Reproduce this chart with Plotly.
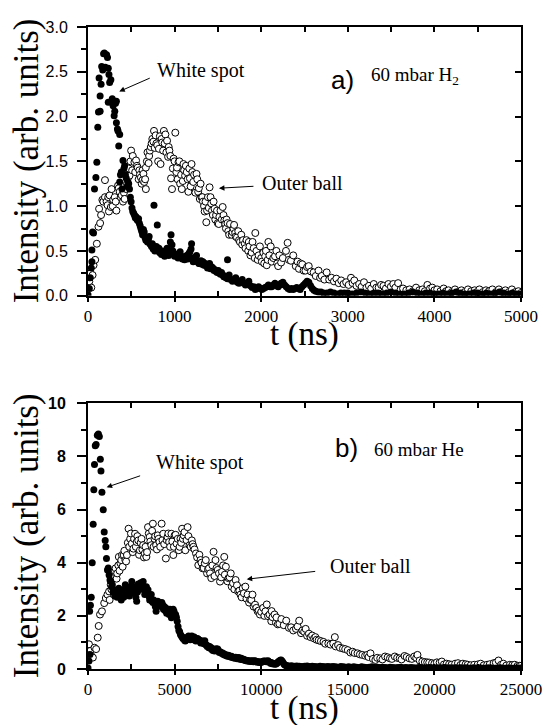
import plotly.graph_objects as go

# ---- panel a) 60 mbar H2 ----
t_ws_a = [0, 15, 26, 38, 45, 45, 53, 64, 75, 91, 102, 113, 121, 128, 140, 140, 151, 158, 170, 180,
          189, 200, 215, 225, 234, 234, 242, 250, 264, 272, 280, 290, 302, 309, 318, 328, 328, 340, 347, 355,
          366, 366, 375, 385, 392, 404, 415, 423, 432, 442, 451, 460, 470, 479, 489, 498, 508, 517, 527, 536,
          546, 555, 565, 574, 584, 593, 602, 611, 620, 630, 640, 649, 658, 668, 678, 687, 697, 706, 715, 725,
          734, 743, 753, 762, 762, 772, 781, 790, 800, 810, 819, 828, 838, 848, 857, 866, 876, 885, 894, 904,
          913, 923, 932, 942, 951, 959, 970, 980, 989, 1000, 1010, 1027, 1040, 1050, 1064, 1075, 1090, 1102, 1115, 1127,
          1140, 1150, 1165, 1177, 1190, 1196, 1205, 1215, 1230, 1240, 1253, 1265, 1280, 1291, 1305, 1315, 1328, 1340, 1353, 1366,
          1380, 1392, 1404, 1415, 1430, 1442, 1455, 1467, 1479, 1492, 1505, 1517, 1530, 1542, 1555, 1568, 1580, 1593, 1611, 1611,
          1630, 1648, 1668, 1687, 1706, 1725, 1744, 1763, 1781, 1800, 1819, 1838, 1857, 1876, 1895, 1913, 1932, 1951, 1970, 1990,
          2008, 2027, 2046, 2064, 2083, 2102, 2121, 2140, 2159, 2178, 2196, 2215, 2230, 2250, 2270, 2290, 2310, 2330, 2350, 2370,
          2390, 2410, 2430, 2450, 2470, 2490, 2510, 2530, 2550, 2570, 2590, 2610, 2630, 2660, 2690, 2720, 2760, 2800, 2840, 2880,
          2920, 2960, 3000, 3050, 3100, 3150, 3200, 3250, 3300, 3350, 3400, 3450, 3500, 3550, 3600, 3650, 3700, 3750, 3800, 3850,
          3900, 3950, 4000, 4050, 4100, 4150, 4200, 4250, 4300, 4350, 4400, 4450, 4500, 4550, 4600, 4650, 4700, 4750, 4800, 4850,
          4900, 4950, 5000]
i_ws_a = [0.01, 0.08, 0.2, 0.31, 0.38, 0.51, 0.71, 0.7, 1.19, 1.32, 1.49, 1.88, 2.05, 2.43, 2.06, 2.23, 2.36, 2.56, 2.52, 2.7,
          2.71, 2.55, 2.69, 2.66, 2.54, 2.16, 2.47, 2.38, 2.41, 2.16, 2.2, 2.12, 2.01, 2.06, 2.15, 2.17, 1.93, 1.86, 1.84, 1.67,
          1.8, 1.27, 1.35, 1.38, 1.19, 1.51, 1.42, 1.45, 1.35, 1.31, 1.22, 1.27, 1.25, 1.19, 1.1, 1.05, 0.98, 0.94, 0.92, 0.9,
          0.87, 0.88, 0.85, 0.84, 0.86, 0.81, 0.78, 0.75, 0.72, 0.68, 0.74, 0.71, 0.65, 0.62, 0.64, 0.6, 0.63, 0.66, 0.58, 0.57,
          0.55, 0.58, 0.52, 1.01, 0.53, 0.5, 0.51, 0.55, 0.79, 0.5, 0.53, 0.48, 0.49, 0.46, 0.5, 0.47, 0.47, 0.44, 0.5, 0.48,
          0.53, 0.46, 0.45, 0.5, 0.6, 0.68, 0.57, 0.5, 0.47, 0.44, 0.46, 0.45, 0.42, 0.47, 0.49, 0.44, 0.41, 0.42, 0.4, 0.44,
          0.45, 0.41, 0.47, 0.49, 0.52, 0.58, 0.42, 0.38, 0.4, 0.43, 0.45, 0.38, 0.36, 0.36, 0.39, 0.35, 0.38, 0.34, 0.36, 0.33,
          0.31, 0.35, 0.36, 0.3, 0.32, 0.31, 0.28, 0.29, 0.27, 0.26, 0.28, 0.25, 0.24, 0.26, 0.23, 0.21, 0.22, 0.2, 0.4, 0.19,
          0.23, 0.18, 0.16, 0.18, 0.2, 0.15, 0.14, 0.16, 0.18, 0.14, 0.12, 0.14, 0.16, 0.11, 0.09, 0.1, 0.07, 0.08, 0.1, 0.08,
          0.07, 0.08, 0.09, 0.1, 0.12, 0.1, 0.1, 0.12, 0.14, 0.11, 0.1, 0.12, 0.14, 0.15, 0.12, 0.1, 0.08, 0.07, 0.08, 0.07,
          0.08, 0.09, 0.08, 0.07, 0.1, 0.12, 0.14, 0.16, 0.15, 0.11, 0.08, 0.06, 0.05, 0.04, 0.04, 0.03, 0.03, 0.04, 0.03, 0.02,
          0.03, 0.03, 0.03, 0.02, 0.03, 0.04, 0.03, 0.02, 0.03, 0.03, 0.02, 0.03, 0.04, 0.03, 0.02, 0.02, 0.03, 0.04, 0.03, 0.02,
          0.03, 0.03, 0.02, 0.02, 0.03, 0.02, 0.03, 0.04, 0.03, 0.02, 0.02, 0.03, 0.03, 0.02, 0.03, 0.02, 0.03, 0.04, 0.03, 0.02,
          0.03, 0.02, 0.02]

t_ob_a = [0, 15, 30, 38, 53, 64, 83, 102, 121, 128, 140, 151, 166, 177, 196, 196, 215, 226, 234, 242,
          250, 264, 272, 285, 291, 309, 320, 328, 347, 355, 366, 377, 390, 404, 415, 423, 442, 450, 460, 470,
          479, 490, 498, 510, 517, 536, 545, 555, 565, 574, 585, 593, 600, 611, 620, 630, 630, 640, 649, 660,
          668, 668, 680, 687, 700, 706, 715, 725, 735, 743, 755, 762, 770, 781, 790, 800, 810, 819, 830, 838,
          850, 857, 868, 876, 885, 894, 905, 913, 925, 932, 940, 951, 959, 970, 980, 989, 1000, 1008, 1020, 1027,
          1035, 1045, 1055, 1064, 1075, 1083, 1095, 1102, 1110, 1121, 1130, 1140, 1150, 1159, 1170, 1177, 1185, 1196, 1205, 1215,
          1225, 1240, 1253, 1262, 1272, 1280, 1291, 1300, 1310, 1320, 1328, 1340, 1347, 1357, 1366, 1375, 1385, 1395, 1404, 1415,
          1423, 1432, 1442, 1450, 1461, 1470, 1479, 1490, 1498, 1510, 1517, 1530, 1545, 1555, 1565, 1574, 1585, 1593, 1600, 1611,
          1620, 1630, 1640, 1660, 1668, 1680, 1687, 1700, 1706, 1720, 1735, 1744, 1755, 1770, 1781, 1790, 1810, 1819, 1830, 1850,
          1857, 1865, 1876, 1890, 1900, 1913, 1925, 1932, 1945, 1960, 1970, 1985, 2000, 2008, 2025, 2035, 2046, 2055, 2064, 2075,
          2083, 2095, 2110, 2121, 2140, 2159, 2175, 2185, 2196, 2210, 2230, 2250, 2286, 2305, 2320, 2343, 2370, 2399, 2420, 2436,
          2455, 2474, 2490, 2511, 2530, 2549, 2575, 2605, 2630, 2662, 2680, 2699, 2730, 2756, 2785, 2812, 2840, 2868, 2895, 2924,
          2950, 2981, 3010, 3037, 3055, 3075, 3100, 3131, 3160, 3187, 3215, 3244, 3270, 3300, 3330, 3356, 3385, 3412, 3440, 3469,
          3497, 3525, 3550, 3581, 3610, 3638, 3675, 3713, 3750, 3788, 3825, 3863, 3890, 3919, 3950, 3976, 4000, 4032, 4070, 4107,
          4135, 4163, 4200, 4238, 4275, 4313, 4350, 4388, 4425, 4464, 4490, 4520, 4560, 4595, 4630, 4670, 4710, 4745, 4780, 4820,
          4860, 4895, 4935, 4970, 5000]
i_ob_a = [0.2, 0.16, 0.25, 0.09, 0.23, 0.34, 0.4, 0.58, 0.77, 0.97, 0.81, 0.9, 1.07, 1.05, 1.1, 1.29, 1.05, 1.01, 1.1, 0.94,
          1.12, 0.99, 1.19, 1.0, 1.07, 1.1, 1.05, 0.95, 1.23, 1.2, 1.16, 1.1, 1.12, 1.05, 1.15, 1.08, 1.19, 1.25, 1.31, 1.42,
          1.34, 1.5, 1.62, 1.4, 1.56, 1.49, 1.38, 1.51, 1.45, 1.43, 1.3, 1.4, 1.35, 1.32, 1.25, 1.29, 1.4, 1.36, 1.27, 1.3,
          1.19, 1.43, 1.5, 1.6, 1.48, 1.56, 1.62, 1.66, 1.7, 1.75, 1.72, 1.84, 1.65, 1.79, 1.7, 1.68, 1.5, 1.64, 1.78, 1.47,
          1.75, 1.71, 1.62, 1.84, 1.7, 1.8, 1.6, 1.73, 1.55, 1.66, 1.62, 1.56, 1.31, 1.19, 1.42, 1.53, 1.5, 1.82, 1.38, 1.43,
          1.3, 1.49, 1.5, 1.25, 1.35, 1.19, 1.28, 1.47, 1.4, 1.34, 1.45, 1.38, 1.3, 1.16, 1.42, 1.31, 1.22, 1.47, 1.38, 1.27,
          1.35, 1.15, 1.36, 1.3, 1.16, 1.2, 1.08, 1.25, 1.1, 1.1, 1.05, 1.0, 0.94, 1.05, 0.82, 0.95, 1.1, 0.98, 1.21, 1.1,
          1.03, 0.95, 0.9, 1.05, 0.97, 0.85, 0.9, 0.95, 0.81, 0.8, 0.88, 0.95, 0.85, 0.99, 0.9, 0.84, 0.8, 0.75, 0.85, 0.81,
          0.72, 0.68, 0.8, 0.68, 0.71, 0.75, 0.79, 0.7, 0.66, 0.65, 0.72, 0.62, 0.6, 0.68, 0.57, 0.62, 0.58, 0.53, 0.62, 0.5,
          0.6, 0.55, 0.45, 0.48, 0.6, 0.53, 0.42, 0.7, 0.5, 0.4, 0.45, 0.55, 0.42, 0.38, 0.48, 0.36, 0.44, 0.5, 0.34, 0.4,
          0.6, 0.45, 0.55, 0.38, 0.42, 0.44, 0.5, 0.36, 0.33, 0.45, 0.37, 0.42, 0.5, 0.59, 0.4, 0.39, 0.45, 0.33, 0.38, 0.3,
          0.36, 0.35, 0.28, 0.28, 0.32, 0.33, 0.27, 0.26, 0.22, 0.28, 0.2, 0.22, 0.18, 0.26, 0.18, 0.2, 0.16, 0.19, 0.14, 0.17,
          0.13, 0.15, 0.12, 0.2, 0.14, 0.17, 0.11, 0.13, 0.1, 0.15, 0.09, 0.11, 0.08, 0.13, 0.09, 0.09, 0.12, 0.11, 0.08, 0.13,
          0.1, 0.13, 0.09, 0.14, 0.07, 0.08, 0.06, 0.07, 0.05, 0.09, 0.06, 0.07, 0.05, 0.12, 0.08, 0.09, 0.06, 0.07, 0.05, 0.08,
          0.05, 0.06, 0.04, 0.07, 0.04, 0.06, 0.04, 0.07, 0.05, 0.06, 0.04, 0.07, 0.04, 0.06, 0.05, 0.07, 0.04, 0.07, 0.04, 0.06,
          0.04, 0.07, 0.04, 0.05, 0.03]

# ---- panel b) 60 mbar He ----
t_ws_b = [0, 56, 94, 112, 140, 187, 243, 299, 336, 375, 420, 468, 540, 600, 655, 712, 749, 805, 880, 936,
          993, 1030, 1067, 1124, 1170, 1217, 1270, 1311, 1360, 1405, 1450, 1498, 1545, 1592, 1640, 1686, 1733, 1780, 1827, 1873,
          1920, 1967, 2014, 2061, 2108, 2154, 2200, 2248, 2295, 2341, 2388, 2435, 2482, 2529, 2575, 2622, 2669, 2716, 2763, 2810,
          2857, 2903, 2950, 2997, 3044, 3091, 3138, 3184, 3231, 3278, 3325, 3371, 3418, 3465, 3512, 3559, 3606, 3652, 3700, 3746,
          3793, 3840, 3886, 3933, 3980, 4027, 4074, 4121, 4168, 4215, 4262, 4308, 4355, 4400, 4448, 4495, 4540, 4589, 4636, 4683,
          4730, 4777, 4814, 4870, 4917, 4964, 5010, 5057, 5104, 5151, 5198, 5245, 5291, 5338, 5385, 5432, 5479, 5526, 5573, 5619,
          5666, 5713, 5760, 5807, 5853, 5900, 5947, 5994, 6040, 6087, 6134, 6181, 6228, 6275, 6322, 6368, 6415, 6462, 6509, 6556,
          6602, 6649, 6696, 6743, 6790, 6837, 6883, 6930, 6977, 7024, 7071, 7118, 7165, 7212, 7258, 7305, 7352, 7399, 7445, 7492,
          7539, 7586, 7633, 7680, 7727, 7773, 7820, 7867, 7914, 7961, 8008, 8054, 8101, 8148, 8195, 8242, 8289, 8336, 8382, 8429,
          8476, 8523, 8570, 8617, 8663, 8710, 8757, 8804, 8851, 8898, 8945, 8991, 9038, 9085, 9132, 9179, 9225, 9272, 9320, 9366,
          9413, 9460, 9507, 9553, 9600, 9646, 9693, 9740, 9787, 9834, 9880, 9927, 9974, 10020, 10067, 10114, 10161, 10208, 10255, 10301,
          10348, 10395, 10442, 10489, 10535, 10582, 10629, 10676, 10723, 10770, 10817, 10863, 10910, 10957, 11004, 11050, 11100, 11150, 11200, 11250,
          11300, 11350, 11400, 11450, 11500, 11600, 11750, 11900, 12050, 12200, 12350, 12500, 12650, 12800, 12950, 13100, 13250, 13400, 13550, 13700,
          13850, 14000, 14150, 14300, 14450, 14600, 14750, 14900, 15050, 15200, 15350, 15500, 15650, 15800, 15950, 16100, 16250, 16400, 16550, 16700,
          16850, 17000, 17150, 17300, 17450, 17600, 17750, 17900, 18050, 18200, 18350, 18500, 18650, 18800, 18950, 19100, 19250, 19400, 19550, 19700,
          19850, 20000, 20150, 20300, 20450, 20600, 20750, 20900, 21050, 21200, 21350, 21500, 21650, 21800, 21950, 22100, 22250, 22400, 22550, 22700,
          22850, 23000, 23150, 23300, 23450, 23600, 23750, 23900, 24050, 24200, 24350, 24500, 24650, 24800, 24950]
i_ws_b = [0.04, 0.3, 2.17, 0.55, 2.4, 2.7, 4.0, 5.45, 6.75, 7.7, 8.4, 8.45, 8.8, 8.85, 8.75, 7.9, 7.45, 6.65, 5.99, 5.16,
          4.84, 4.6, 4.16, 3.73, 3.8, 3.54, 3.35, 3.3, 3.1, 3.17, 2.9, 2.98, 2.75, 2.8, 2.9, 2.7, 2.95, 3.04, 2.75, 2.85,
          2.6, 2.86, 2.95, 2.7, 3.0, 3.17, 2.8, 2.9, 3.05, 2.98, 2.75, 3.1, 2.9, 3.29, 3.0, 2.85, 3.05, 3.1, 2.7, 2.55,
          2.9, 3.2, 3.0, 3.17, 3.25, 3.0, 3.1, 3.29, 3.05, 2.8, 2.95, 3.1, 2.85, 2.98, 2.75, 2.6, 2.7, 2.8, 2.55, 2.5,
          2.6, 2.48, 2.35, 2.17, 2.5, 2.55, 2.4, 2.48, 2.45, 2.35, 2.5, 2.42, 2.25, 2.35, 2.2, 2.3, 2.1, 2.2, 2.15, 2.05,
          2.25, 2.1, 1.93, 2.15, 2.25, 2.17, 2.0, 2.05, 1.95, 1.8, 1.6, 1.45, 1.4, 1.3, 1.25, 1.2, 1.15, 1.18, 1.08, 1.05,
          1.15, 1.12, 1.2, 1.24, 1.15, 1.1, 1.2, 1.24, 1.15, 1.1, 1.2, 1.12, 1.05, 1.1, 1.15, 1.12, 1.05, 1.08, 0.98, 1.0,
          1.05, 0.98, 0.95, 1.06, 0.92, 0.9, 0.85, 0.87, 0.8, 0.85, 0.78, 0.8, 0.72, 0.7, 0.74, 0.68, 0.72, 0.76, 0.7, 0.75,
          0.66, 0.62, 0.65, 0.62, 0.58, 0.6, 0.55, 0.56, 0.52, 0.54, 0.5, 0.48, 0.52, 0.5, 0.46, 0.45, 0.48, 0.44, 0.42, 0.43,
          0.4, 0.44, 0.42, 0.39, 0.41, 0.43, 0.38, 0.37, 0.4, 0.36, 0.35, 0.37, 0.34, 0.32, 0.33, 0.3, 0.31, 0.31, 0.29, 0.3,
          0.28, 0.31, 0.3, 0.27, 0.3, 0.31, 0.27, 0.28, 0.25, 0.27, 0.26, 0.24, 0.26, 0.25, 0.27, 0.29, 0.3, 0.28, 0.3, 0.27,
          0.29, 0.31, 0.27, 0.25, 0.22, 0.24, 0.2, 0.22, 0.19, 0.21, 0.18, 0.2, 0.22, 0.25, 0.28, 0.3, 0.33, 0.34, 0.3, 0.25,
          0.2, 0.16, 0.14, 0.12, 0.12, 0.11, 0.12, 0.1, 0.11, 0.1, 0.09, 0.1, 0.11, 0.09, 0.1, 0.09, 0.08, 0.1, 0.09, 0.08,
          0.09, 0.08, 0.09, 0.08, 0.07, 0.09, 0.08, 0.07, 0.08, 0.07, 0.08, 0.07, 0.06, 0.08, 0.07, 0.06, 0.07, 0.08, 0.06, 0.07,
          0.06, 0.07, 0.06, 0.05, 0.07, 0.06, 0.05, 0.06, 0.07, 0.05, 0.06, 0.05, 0.06, 0.05, 0.04, 0.06, 0.05, 0.04, 0.05, 0.06,
          0.05, 0.04, 0.05, 0.04, 0.05, 0.06, 0.04, 0.05, 0.04, 0.05, 0.04, 0.05, 0.04, 0.05, 0.04, 0.03, 0.05, 0.04, 0.05, 0.04,
          0.03, 0.04, 0.05, 0.04, 0.03, 0.04, 0.05, 0.04, 0.03, 0.04, 0.04, 0.03, 0.04, 0.03, 0.04]

t_ob_b = [0, 56, 131, 187, 281, 375, 468, 562, 618, 693, 805, 936, 1030, 1124, 1217, 1250, 1311, 1350, 1405, 1450,
          1498, 1550, 1592, 1650, 1686, 1750, 1780, 1820, 1873, 1920, 1967, 2000, 2061, 2100, 2154, 2200, 2248, 2300, 2341, 2380,
          2435, 2480, 2529, 2580, 2622, 2660, 2716, 2760, 2810, 2850, 2903, 2950, 2997, 3040, 3091, 3140, 3184, 3230, 3278, 3320,
          3371, 3410, 3465, 3510, 3559, 3600, 3652, 3700, 3746, 3790, 3840, 3880, 3933, 3980, 4027, 4070, 4121, 4170, 4252, 4300,
          4345, 4400, 4495, 4540, 4589, 4640, 4683, 4740, 4814, 4870, 4926, 4960, 5001, 5060, 5113, 5180, 5244, 5290, 5338, 5380,
          5432, 5480, 5526, 5570, 5619, 5690, 5751, 5800, 5863, 5930, 5994, 6040, 6087, 6150, 6237, 6300, 6368, 6430, 6499, 6550,
          6612, 6680, 6743, 6800, 6874, 6930, 6987, 7050, 7118, 7180, 7249, 7300, 7361, 7420, 7492, 7560, 7623, 7690, 7736, 7800,
          7867, 7900, 7961, 8050, 8111, 8180, 8242, 8300, 8373, 8450, 8523, 8600, 8673, 8740, 8804, 8870, 8935, 9000, 9084, 9150,
          9215, 9300, 9365, 9430, 9496, 9560, 9646, 9720, 9796, 9860, 9927, 10000, 10114, 10180, 10245, 10322, 10395, 10480, 10582, 10603,
          10650, 10770, 10850, 10883, 10957, 11050, 11164, 11300, 11445, 11600, 11725, 11850, 12006, 12100, 12193, 12300, 12380, 12480, 12567, 12650,
          12754, 12850, 12942, 13050, 13129, 13200, 13316, 13450, 13596, 13700, 13877, 14000, 14158, 14251, 14300, 14439, 14550, 14719, 14850, 15000,
          15150, 15281, 15400, 15561, 15700, 15842, 16000, 16123, 16200, 16310, 16450, 16591, 16700, 16871, 17000, 17152, 17300, 17433, 17550, 17713,
          17850, 17994, 18100, 18275, 18400, 18555, 18700, 18836, 18950, 19023, 19150, 19304, 19450, 19585, 19700, 19865, 20000, 20146, 20300, 20427,
          20550, 20707, 20850, 20988, 21200, 21362, 21500, 21644, 21800, 21924, 22100, 22298, 22500, 22672, 22850, 23046, 23200, 23421, 23550, 23701,
          23850, 23982, 24150, 24356, 24500, 24637, 24800, 24918, 25000]
i_ob_b = [0.8, 0.93, 0.68, 0.5, 0.43, 0.8, 0.75, 1.18, 1.62, 2.05, 2.17, 2.48, 2.67, 2.8, 2.92, 2.6, 3.17, 3.0, 3.42, 3.5,
          3.66, 3.7, 3.79, 3.4, 3.6, 3.9, 4.22, 3.7, 3.98, 4.1, 4.29, 3.85, 4.29, 4.45, 4.1, 4.05, 4.29, 4.75, 5.28, 4.6,
          4.9, 5.1, 4.72, 4.4, 4.53, 4.9, 5.09, 4.6, 4.78, 5.0, 4.84, 4.3, 4.47, 4.75, 4.9, 4.5, 4.66, 4.2, 4.35, 4.6,
          4.22, 4.4, 5.34, 5.1, 4.97, 4.8, 4.66, 5.2, 5.47, 4.6, 4.9, 5.0, 4.66, 4.5, 5.03, 4.9, 4.78, 4.6, 5.47, 4.85,
          5.09, 4.7, 4.16, 4.85, 4.97, 5.1, 4.78, 4.6, 5.09, 4.8, 4.29, 4.6, 5.03, 5.05, 4.72, 4.9, 4.47, 4.6, 4.9, 4.75,
          5.28, 4.9, 5.03, 5.15, 4.47, 4.85, 5.34, 5.0, 4.66, 4.6, 4.84, 4.7, 4.6, 4.5, 4.35, 4.2, 3.91, 4.3, 4.1, 4.0,
          3.79, 3.8, 3.98, 4.1, 3.6, 3.75, 3.79, 3.6, 3.42, 3.9, 4.41, 3.5, 4.1, 3.8, 3.73, 3.6, 3.29, 3.45, 3.66, 3.9,
          4.22, 3.55, 3.85, 3.3, 3.42, 3.45, 3.6, 3.1, 3.23, 3.0, 3.35, 3.15, 2.92, 2.95, 2.8, 2.7, 3.04, 2.85, 3.1, 2.65,
          2.8, 2.5, 2.61, 2.6, 2.8, 2.35, 2.42, 2.3, 2.17, 2.2, 2.05, 2.15, 2.3, 2.0, 2.17, 2.43, 1.99, 2.05, 1.8, 2.18,
          1.95, 2.05, 1.75, 1.94, 1.68, 1.7, 1.88, 1.65, 1.82, 1.55, 1.57, 1.45, 1.51, 1.6, 1.82, 1.35, 1.45, 1.4, 1.51, 1.25,
          1.33, 1.2, 1.26, 1.15, 1.2, 1.1, 1.08, 1.05, 1.02, 0.95, 0.96, 0.92, 0.96, 1.2, 0.85, 0.9, 0.8, 0.77, 0.75, 0.71,
          0.62, 0.65, 0.6, 0.59, 0.55, 0.53, 0.5, 0.53, 0.45, 0.59, 0.38, 0.34, 0.42, 0.4, 0.36, 0.47, 0.44, 0.4, 0.38, 0.47,
          0.42, 0.4, 0.36, 0.49, 0.45, 0.4, 0.38, 0.47, 0.42, 0.53, 0.32, 0.28, 0.26, 0.25, 0.24, 0.22, 0.2, 0.25, 0.24, 0.28,
          0.17, 0.2, 0.18, 0.16, 0.2, 0.22, 0.15, 0.2, 0.18, 0.16, 0.14, 0.16, 0.17, 0.2, 0.14, 0.16, 0.18, 0.22, 0.24, 0.32,
          0.16, 0.2, 0.13, 0.16, 0.15, 0.16, 0.12, 0.12, 0.12]

SERIF = "Liberation Serif"
SANS = "Liberation Sans"

filled = dict(symbol="circle", size=7, color="black", line=dict(width=0))
hollow = dict(symbol="circle", size=7, color="white", line=dict(width=1, color="black"))

fig = go.Figure()
fig.add_trace(go.Scatter(x=t_ob_a, y=i_ob_a, mode="markers", marker=hollow, xaxis="x", yaxis="y"))
fig.add_trace(go.Scatter(x=t_ws_a, y=i_ws_a, mode="markers", marker=filled, xaxis="x", yaxis="y"))
fig.add_trace(go.Scatter(x=t_ob_b, y=i_ob_b, mode="markers", marker=hollow, xaxis="x2", yaxis="y2"))
fig.add_trace(go.Scatter(x=t_ws_b, y=i_ws_b, mode="markers", marker=filled, xaxis="x2", yaxis="y2"))
# invisible traces so the overlay tick axes (top / right / inner bottom) get a subplot
for xa, ya in [("x3", "y"), ("x5", "y"), ("x", "y3"), ("x4", "y2"), ("x6", "y2"), ("x2", "y4")]:
    fig.add_trace(go.Scatter(x=[0], y=[0], mode="markers", marker=dict(opacity=0), xaxis=xa, yaxis=ya,
                             hoverinfo="skip"))

line = dict(showline=True, linewidth=2, linecolor="black", mirror=True, showgrid=False, zeroline=False)
bare = dict(showline=False, showgrid=False, zeroline=False, showticklabels=False,
            ticks="inside", tickwidth=1.5, tickcolor="black")
xfont = dict(family=SERIF, size=17, color="black")

# the page body has an 8 px margin, so the figure is 8 px smaller than the window
fig.update_layout(
    width=545, height=717,
    margin=dict(l=80, r=22, t=11, b=56),
    paper_bgcolor="white", plot_bgcolor="white",
    showlegend=False,
    xaxis=dict(domain=[0, 1], anchor="y", range=[0, 5000], dtick=1000, ticks="outside", ticklen=4,
               tickwidth=1.5, tickcolor="black", tickfont=xfont, **line),
    xaxis3=dict(overlaying="x", anchor="y", side="top", range=[0, 5000], dtick=500, ticklen=5, **bare),
    xaxis5=dict(overlaying="x", anchor="y", side="bottom", range=[0, 5000], dtick=500, ticklen=5, **bare),
    yaxis=dict(domain=[0.5815, 1], anchor="x", range=[0, 3], dtick=0.5, tickformat=".1f",
               ticks="outside", ticklen=9, tickwidth=1.5, tickcolor="black", ticklabelstandoff=6,
               minor=dict(dtick=0.25, ticks="outside", ticklen=5, tickwidth=1.5, tickcolor="black"),
               tickfont=dict(family=SANS, size=16, color="black"), **line),
    yaxis3=dict(overlaying="y", anchor="x", side="right", range=[0, 3], dtick=0.5, ticklen=6, **bare),
    xaxis2=dict(domain=[0, 1], anchor="y2", range=[0, 25000], dtick=5000, tickformat="d", ticks="outside",
                ticklen=4, tickwidth=1.5, tickcolor="black", tickfont=xfont, **line),
    xaxis4=dict(overlaying="x2", anchor="y2", side="top", range=[0, 25000], dtick=2500, ticklen=5, **bare),
    xaxis6=dict(overlaying="x2", anchor="y2", side="bottom", range=[0, 25000], dtick=2500, ticklen=5, **bare),
    yaxis2=dict(domain=[0, 0.4138], anchor="x2", range=[0, 10], dtick=2,
                ticks="outside", ticklen=9, tickwidth=1.5, tickcolor="black", ticklabelstandoff=8,
                minor=dict(dtick=1, ticks="outside", ticklen=5, tickwidth=1.5, tickcolor="black"),
                tickfont=dict(family=SANS, size=16, color="black", weight="bold"), **line),
    yaxis4=dict(overlaying="y2", anchor="x2", side="right", range=[0, 10], dtick=1, ticklen=6, **bare),
)

ann = []
for xr, yr, shift in [("x", "y", -39), ("x2", "y2", -39)]:
    ann.append(dict(text="t (ns)", xref=xr + " domain", yref=yr + " domain", x=0.5, y=0,
                    yshift=shift, yanchor="middle", showarrow=False,
                    font=dict(family=SERIF, size=33, color="black")))
    ann.append(dict(text="Intensity (arb. units)", xref=xr + " domain", yref=yr + " domain", x=0, y=0.5,
                    xshift=-62, xanchor="center", yanchor="middle", textangle=-90, showarrow=False,
                    font=dict(family=SERIF, size=35, color="black")))

label = dict(family=SERIF, size=20, color="black")
arrow = dict(text="", showarrow=True, arrowhead=2, arrowsize=1.1, arrowwidth=1, arrowcolor="black")
ann += [
    dict(text="White spot", x=1304, y=2.51, xref="x", yref="y", showarrow=False, font=label),
    dict(x=361, y=2.28, xref="x", yref="y", ax=32, ay=-14, **arrow),
    dict(text="Outer ball", x=2472, y=1.26, xref="x", yref="y", showarrow=False, font=label),
    dict(x=1512, y=1.2, xref="x", yref="y", ax=36, ay=-2, **arrow),
    dict(text="a)", x=2935, y=2.41, xref="x", yref="y", showarrow=False,
         font=dict(family=SANS, size=26, color="black")),
    dict(text="60 mbar H<sub>2</sub>", x=3250, y=2.45, xref="x", yref="y", xanchor="left", showarrow=False,
         font=dict(family=SERIF, size=19, color="black")),
    dict(text="White spot", x=6448, y=7.77, xref="x2", yref="y2", showarrow=False, font=label),
    dict(x=1075, y=6.84, xref="x2", yref="y2", ax=35, ay=-12, **arrow),
    dict(text="Outer ball", x=16290, y=3.87, xref="x2", yref="y2", showarrow=False, font=label),
    dict(x=9163, y=3.38, xref="x2", yref="y2", ax=70, ay=-8, **arrow),
    dict(text="b)", x=14930, y=8.33, xref="x2", yref="y2", showarrow=False,
         font=dict(family=SANS, size=26, color="black")),
    dict(text="60 mbar He", x=16400, y=8.25, xref="x2", yref="y2", xanchor="left", showarrow=False,
         font=dict(family=SERIF, size=19, color="black")),
]
fig.update_layout(annotations=ann)

fig.write_html("out.html")
